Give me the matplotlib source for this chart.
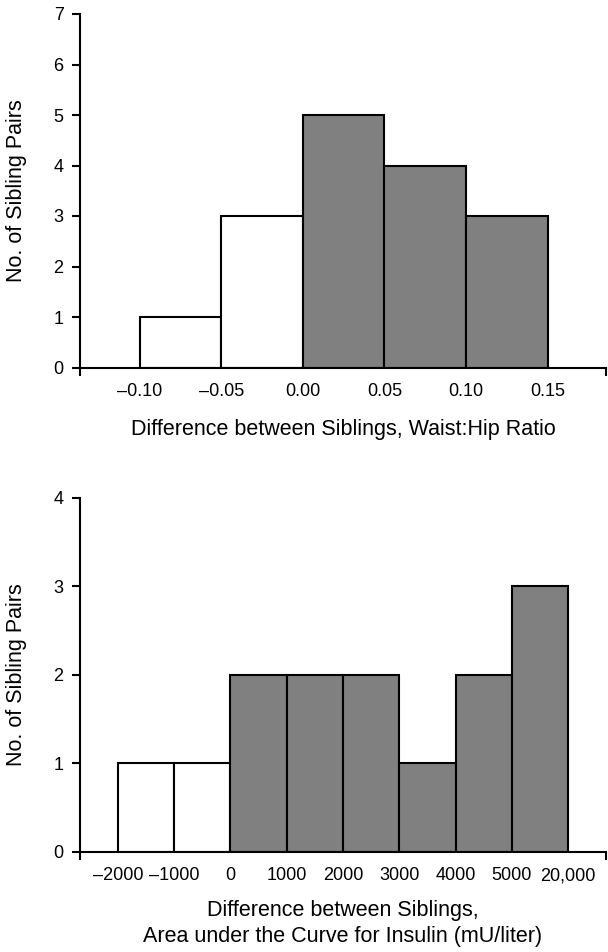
import matplotlib
matplotlib.use("Agg")
import matplotlib.pyplot as plt
from matplotlib.ticker import FixedLocator, FixedFormatter

plt.rcParams['font.family'] = ['Liberation Sans', 'DejaVu Sans']

# top panel: waist:hip ratio
whr_edges = [-0.10, -0.05, 0.00, 0.05, 0.10, 0.15]
whr_counts = [1, 3, 5, 4, 3]
whr_ticks = ["\u20130.10", "\u20130.05", "0.00", "0.05", "0.10", "0.15"]

# bottom panel: insulin AUC (bins drawn on an ordinal scale)
auc_ticks = ["\u20132000", "\u20131000", "0", "1000", "2000", "3000",
             "4000", "5000", "20,000"]
auc_counts = [1, 1, 2, 2, 2, 1, 2, 3]

GRAY = "#808080"
LW = 1.5
TICK_FS = 13
LABEL_FS = 15.5


def style_axis(ax, xlim, ymax):
    ax.set_xlim(*xlim)
    ax.set_ylim(0, ymax)
    for s in ("top", "right"):
        ax.spines[s].set_visible(False)
    for s in ("left", "bottom"):
        ax.spines[s].set_linewidth(LW)
    ax.set_yticks(range(ymax + 1))
    ax.tick_params(axis="y", direction="out", length=5.8, width=LW,
                   pad=6, labelsize=TICK_FS)
    ax.tick_params(axis="x", which="major", length=0, pad=20.5,
                   labelsize=TICK_FS)
    # short marks only at the two ends of the x axis
    ax.xaxis.set_minor_locator(FixedLocator(list(xlim)))
    ax.tick_params(axis="x", which="minor", direction="out", length=5.8,
                   width=LW)


def baseline_labels(ax):
    # keep "20,000" on the same line as the others
    for t in ax.xaxis.get_major_ticks():
        t.label1.set_verticalalignment("baseline")


fig = plt.figure(figsize=(6.08, 9.52), dpi=100)

# ---- top
ax1 = fig.add_axes([80 / 608, 1 - 367.5 / 952, 526 / 608, 353.5 / 952])
lefts = whr_edges[:-1]
widths = [b - a for a, b in zip(whr_edges[:-1], whr_edges[1:])]
colors = ["white" if x < 0 else GRAY for x in lefts]
ax1.bar(lefts, whr_counts, width=widths, align="edge", color=colors,
        edgecolor="black", linewidth=LW, zorder=2)
style_axis(ax1, (-0.1365, 0.1857), 7)
ax1.xaxis.set_major_locator(FixedLocator(whr_edges))
ax1.xaxis.set_major_formatter(FixedFormatter(whr_ticks))
baseline_labels(ax1)
ax1.set_xlabel("Difference between Siblings, Waist:Hip Ratio",
               fontsize=LABEL_FS)
ax1.xaxis.set_label_coords(0.5, -0.145)

# ---- bottom
ax2 = fig.add_axes([80 / 608, 1 - 851.7 / 952, 526 / 608, 354 / 952])
pos = list(range(len(auc_counts)))
colors2 = ["white" if i < 2 else GRAY for i in pos]
ax2.bar(pos, auc_counts, width=1.0, align="edge", color=colors2,
        edgecolor="black", linewidth=LW, zorder=2)
style_axis(ax2, (-0.671, len(auc_counts) + 0.671), 4)
ax2.xaxis.set_major_locator(FixedLocator(range(len(auc_ticks))))
ax2.xaxis.set_major_formatter(FixedFormatter(auc_ticks))
baseline_labels(ax2)
ax2.set_xlabel("Difference between Siblings,\n"
               "Area under the Curve for Insulin (mU/liter)",
               fontsize=LABEL_FS, linespacing=1.32)
ax2.xaxis.set_label_coords(0.5, -0.137)

for ax in (ax1, ax2):
    bb = ax.get_position()
    fig.text(17 / 608, bb.y0 + bb.height / 2, "No. of Sibling Pairs",
             rotation=90, ha="center", va="center", fontsize=LABEL_FS)

fig.savefig("out.png", dpi=100)
